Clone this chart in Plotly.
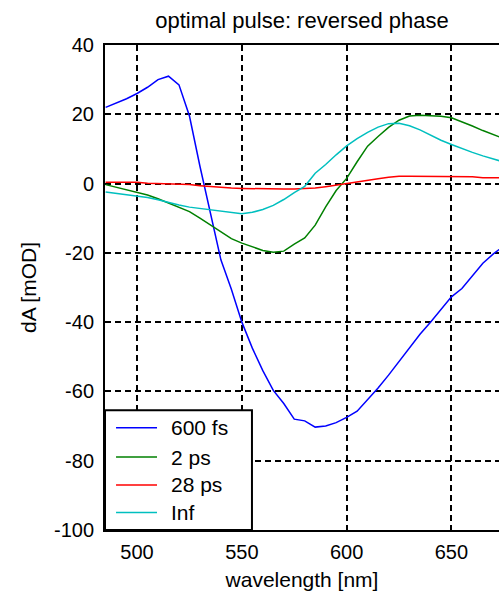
import plotly.graph_objects as go

# Transient absorption spectra after the optimal pulse with reversed phase
wavelength = [485, 490, 495, 500, 505, 510, 515, 520, 525, 530, 535, 540, 545, 550,
              555, 560, 565, 570, 575, 580, 585, 590, 595, 600, 605, 610, 615, 620,
              625, 630, 635, 640, 645, 650, 655, 660, 665, 670, 675]

da_600fs = [22.0, 23.2, 24.5, 26.0, 27.8, 30.0, 31.0, 28.5, 19.5, 5.0, -8.5, -22.0,
            -30.5, -40.0, -47.5, -54.0, -59.7, -63.5, -68.0, -68.5, -70.3, -70.0,
            -69.0, -67.5, -65.7, -62.5, -59.0, -55.3, -51.3, -47.2, -43.5, -40.0,
            -36.3, -32.7, -30.3, -26.5, -23.0, -20.3, -18.0]

da_2ps = [-0.3, -1.0, -1.7, -2.4, -3.3, -4.4, -5.6, -6.7, -8.1, -10.0, -12.0, -14.0,
          -15.9, -17.2, -18.3, -19.3, -19.8, -19.5, -17.5, -15.7, -12.0, -6.7, -2.0,
          1.5, 6.3, 10.8, 13.6, 16.2, 18.3, 19.5, 19.7, 19.6, 19.4, 19.0, 17.9, 16.6,
          15.3, 14.2, 13.0]

da_28ps = [0.4, 0.4, 0.4, 0.4, 0.1, 0.0, 0.0, -0.1, -0.3, -0.6, -0.9, -1.1, -1.3, -1.4,
           -1.5, -1.5, -1.6, -1.6, -1.6, -1.5, -1.3, -0.9, -0.4, 0.1, 0.5, 1.0, 1.4, 1.8,
           2.1, 2.1, 2.1, 2.1, 2.1, 2.1, 2.1, 2.0, 1.7, 1.7, 1.7]

da_inf = [-2.4, -2.8, -3.1, -3.4, -4.0, -4.7, -5.5, -6.2, -6.8, -7.2, -7.6, -8.0, -8.4,
          -8.7, -8.3, -7.5, -6.3, -4.6, -2.6, -0.8, 3.0, 5.5, 8.3, 10.9, 13.0, 14.8,
          16.3, 17.3, 17.4, 16.7, 15.5, 13.9, 12.5, 11.3, 10.1, 9.0, 8.0, 7.0, 6.2]

series_names = ["600 fs", "2 ps", "28 ps", "Inf"]
series_values = [da_600fs, da_2ps, da_28ps, da_inf]
series_colors = ["#0000ff", "#008000", "#ff0000", "#00bfbf"]

x_ticks = [500, 550, 600, 650]
y_ticks = [40, 20, 0, -20, -40, -60, -80, -100]

FONT = "Liberation Sans, Arial, sans-serif"

fig = go.Figure()
for name, vals, color in zip(series_names, series_values, series_colors):
    fig.add_trace(go.Scatter(x=wavelength, y=vals, name=name, mode="lines",
                             line=dict(color=color, width=1.5), showlegend=False))

axis_common = dict(
    showgrid=True, gridcolor="black", gridwidth=1.5, griddash="6px,4px",
    showline=True, linecolor="black", linewidth=2,
    ticks="inside", ticklen=5, tickcolor="black",
    zeroline=False, tickfont=dict(family=FONT, size=20, color="black"),
)

fig.update_xaxes(range=[484.7, 672.7], tickvals=x_ticks,
                 ticktext=[str(v) for v in x_ticks], mirror=True, ticklabelstandoff=3,
                 title=dict(text="wavelength [nm]", font=dict(family=FONT, size=21, color="black"),
                            standoff=10),
                 **axis_common)
fig.update_yaxes(range=[-100, 40], tickvals=y_ticks,
                 ticktext=[str(v) for v in y_ticks], mirror=False, ticklabelstandoff=5,
                 title=dict(text="dA [mOD]", font=dict(family=FONT, size=21, color="black"),
                            standoff=12),
                 **axis_common)

# Legend box in the lower-left corner of the axes (paper coordinates)
leg_x0, leg_x1, leg_y0, leg_y1 = 0.0, 0.373, 0.0, 0.247
line_x0, line_x1, text_x = 0.028, 0.132, 0.162
row_y = [0.211, 0.1505, 0.093, 0.036]

shapes = [dict(type="rect", xref="paper", yref="paper", x0=leg_x0, x1=leg_x1,
               y0=leg_y0, y1=leg_y1, fillcolor="white",
               line=dict(color="black", width=2), layer="above")]
annotations = []
for name, color, yy in zip(series_names, series_colors, row_y):
    shapes.append(dict(type="line", xref="paper", yref="paper", x0=line_x0, x1=line_x1,
                       y0=yy, y1=yy, line=dict(color=color, width=1.5), layer="above"))
    annotations.append(dict(text=name, xref="paper", yref="paper", x=text_x, y=yy,
                            xanchor="left", yanchor="middle", showarrow=False,
                            font=dict(family=FONT, size=21, color="black")))

fig.update_layout(
    width=499, height=593,
    margin=dict(l=105, r=0, t=45, b=63),
    paper_bgcolor="white", plot_bgcolor="white",
    title=dict(text="optimal pulse: reversed phase", x=302 / 499, xanchor="center",
               xref="container", y=1 - 20 / 593, yanchor="middle", yref="container",
               font=dict(family=FONT, size=22, color="black")),
    shapes=shapes,
    annotations=annotations,
    showlegend=False,
)

fig.write_html("out.html")
